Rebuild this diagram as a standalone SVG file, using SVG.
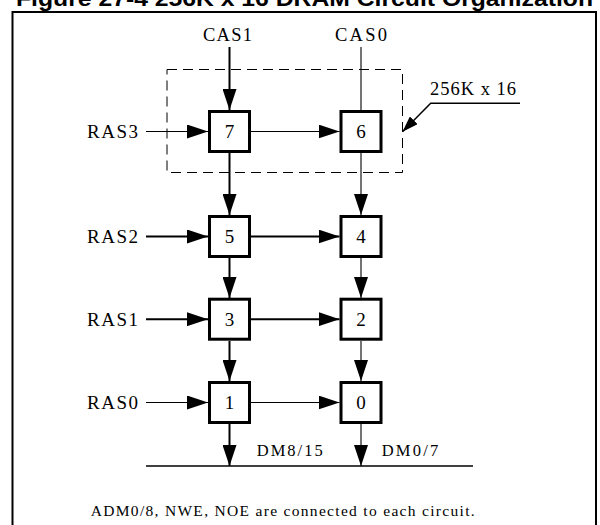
<svg xmlns="http://www.w3.org/2000/svg" width="600" height="525" viewBox="0 0 600 525">
<defs>
<style>
.t{font-family:"Liberation Serif","Times New Roman",serif;fill:#000}
.box{fill:#fff;stroke:#000;stroke-width:3}
.c{fill:none;stroke:#000}
.th{stroke-width:2}
.tn{stroke-width:1.1}
</style>
<marker id="ah" markerUnits="userSpaceOnUse" markerWidth="21" markerHeight="14" refX="21" refY="7" orient="auto" viewBox="0 0 21 14"><path d="M0,0 L21,7 L0,14 z" fill="#000"/></marker>
<marker id="ahs" markerUnits="userSpaceOnUse" markerWidth="16" markerHeight="11" refX="16" refY="5.5" orient="auto" viewBox="0 0 16 11"><path d="M0,0 L16,5.5 L0,11 z" fill="#000"/></marker>
</defs>
<rect width="600" height="525" fill="#fff"/>
<text x="16" y="6" font-family="'Liberation Sans',Arial,sans-serif" font-weight="bold" font-size="22" textLength="577" lengthAdjust="spacingAndGlyphs">Figure 27-4 256K x 16 DRAM Circuit Organization</text>
<rect id="frame" x="12.5" y="12" width="583.5" height="530" fill="none" stroke="#000" stroke-width="2"/>

<g id="module">
<rect x="167" y="69.5" width="235.5" height="103" fill="none" stroke="#000" stroke-width="1" stroke-dasharray="10,6"/>
<text class="t" x="430" y="95" font-size="18.5" textLength="86" lengthAdjust="spacing">256K x 16</text>
</g>

<g id="connectors">
<line class="c th" x1="229.5" y1="47" x2="229.5" y2="110" marker-end="url(#ah)"/>
<line class="c tn" x1="361" y1="47" x2="361" y2="110"/>
<line class="c tn" x1="146" y1="131.5" x2="208" y2="131.5" marker-end="url(#ah)"/>
<line class="c tn" x1="251" y1="131.5" x2="339.5" y2="131.5" marker-end="url(#ah)"/>
<line class="c th" x1="229.5" y1="153" x2="229.5" y2="215" marker-end="url(#ah)"/>
<line class="c tn" x1="361" y1="153" x2="361" y2="215" marker-end="url(#ah)"/>
<line class="c th" x1="146" y1="236.5" x2="208" y2="236.5" marker-end="url(#ah)"/>
<line class="c th" x1="251" y1="236.5" x2="339.5" y2="236.5" marker-end="url(#ah)"/>
<line class="c th" x1="229.5" y1="258" x2="229.5" y2="298" marker-end="url(#ah)"/>
<line class="c tn" x1="361" y1="258" x2="361" y2="298" marker-end="url(#ah)"/>
<line class="c th" x1="146" y1="319.2" x2="208" y2="319.2" marker-end="url(#ah)"/>
<line class="c th" x1="251" y1="319.2" x2="339.5" y2="319.2" marker-end="url(#ah)"/>
<line class="c th" x1="229.5" y1="341" x2="229.5" y2="381" marker-end="url(#ah)"/>
<line class="c tn" x1="361" y1="341" x2="361" y2="381" marker-end="url(#ah)"/>
<line class="c tn" x1="146" y1="402.5" x2="208" y2="402.5" marker-end="url(#ah)"/>
<line class="c tn" x1="251" y1="402.5" x2="339.5" y2="402.5" marker-end="url(#ah)"/>
<line class="c th" x1="229.5" y1="424" x2="229.5" y2="466" marker-end="url(#ah)"/>
<line class="c tn" x1="361" y1="424" x2="361" y2="466" marker-end="url(#ah)"/>
<line class="c" stroke-width="1.5" x1="146" y1="466" x2="473" y2="466"/>
<polyline class="c" stroke-width="1.5" points="520,103.3 430.7,103.3 402.5,131.7" marker-end="url(#ahs)"/>
</g>

<g id="labels">
<text class="t" x="203" y="40.7" font-size="18.5" textLength="49" lengthAdjust="spacing">CAS1</text>
<text class="t" x="335" y="40.7" font-size="18.5" textLength="52" lengthAdjust="spacing">CAS0</text>
<text class="t" x="87" y="138" font-size="19" textLength="51" lengthAdjust="spacing">RAS3</text>
<text class="t" x="87" y="243" font-size="19" textLength="51" lengthAdjust="spacing">RAS2</text>
<text class="t" x="87" y="325.7" font-size="19" textLength="51" lengthAdjust="spacing">RAS1</text>
<text class="t" x="87" y="409" font-size="19" textLength="51" lengthAdjust="spacing">RAS0</text>
<text class="t" x="256.7" y="456" font-size="16.5" textLength="66" lengthAdjust="spacing">DM8/15</text>
<text class="t" x="381.7" y="456" font-size="16.5" textLength="56.6" lengthAdjust="spacing">DM0/7</text>
<text class="t" x="90.7" y="515.5" font-size="15.5" textLength="384" lengthAdjust="spacing">ADM0/8, NWE, NOE are connected to each circuit.</text>
</g>

<g id="n7"><rect class="box" x="209.5" y="111.5" width="40" height="40"/><text class="t" x="229.5" y="138" font-size="19" text-anchor="middle">7</text></g>
<g id="n6"><rect class="box" x="341" y="111.5" width="40" height="40"/><text class="t" x="361" y="138" font-size="19" text-anchor="middle">6</text></g>
<g id="n5"><rect class="box" x="209.5" y="216.5" width="40" height="40"/><text class="t" x="229.5" y="243" font-size="19" text-anchor="middle">5</text></g>
<g id="n4"><rect class="box" x="341" y="216.5" width="40" height="40"/><text class="t" x="361" y="243" font-size="19" text-anchor="middle">4</text></g>
<g id="n3"><rect class="box" x="209.5" y="299.2" width="40" height="40"/><text class="t" x="229.5" y="325.7" font-size="19" text-anchor="middle">3</text></g>
<g id="n2"><rect class="box" x="341" y="299.2" width="40" height="40"/><text class="t" x="361" y="325.7" font-size="19" text-anchor="middle">2</text></g>
<g id="n1"><rect class="box" x="209.5" y="382.5" width="40" height="40"/><text class="t" x="229.5" y="409" font-size="19" text-anchor="middle">1</text></g>
<g id="n0"><rect class="box" x="341" y="382.5" width="40" height="40"/><text class="t" x="361" y="409" font-size="19" text-anchor="middle">0</text></g>
</svg>
